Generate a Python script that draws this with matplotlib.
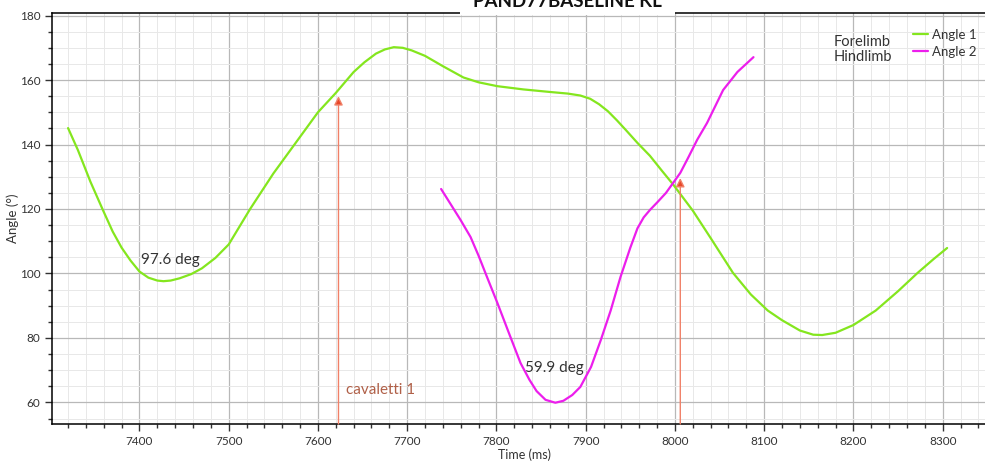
import matplotlib
matplotlib.use("Agg")
import matplotlib.pyplot as plt
from matplotlib.patches import Rectangle
from matplotlib.ticker import MultipleLocator

plt.rcParams["font.family"] = ["Lato", "DejaVu Sans"]

# Forelimb joint angle (Angle 1), deg over time in ms
fore_t = [7320, 7331, 7345, 7359, 7370, 7380, 7390, 7400, 7410, 7420,
          7427, 7435, 7445, 7458, 7470, 7485, 7500, 7512, 7524, 7550,
          7575, 7600, 7620, 7640, 7652, 7665, 7675, 7685, 7695, 7705,
          7720, 7740, 7763, 7780, 7801, 7830, 7860, 7880, 7894, 7905,
          7915, 7925, 7935, 7945, 7958, 7972, 7985, 7998, 8020, 8040,
          8065, 8085, 8104, 8120, 8140, 8155, 8165, 8180, 8200, 8225,
          8250, 8272, 8290, 8305]
fore_deg = [145.1, 138.3, 128.5, 119.7, 113.0, 108.0, 104.0, 100.6, 98.7, 97.8,
            97.6, 97.8, 98.5, 99.8, 101.6, 104.8, 109.0, 114.5, 120.0, 131.0,
            140.5, 150.0, 156.0, 162.5, 165.5, 168.2, 169.5, 170.2, 170.0, 169.2,
            167.5, 164.3, 160.8, 159.3, 158.1, 157.1, 156.3, 155.8, 155.2, 154.2,
            152.5, 150.3, 147.5, 144.5, 140.5, 136.5, 132.0, 127.6, 119.5, 111.0,
            100.2, 93.5, 88.5, 85.5, 82.3, 81.0, 80.9, 81.6, 84.0, 88.5,
            94.5, 100.2, 104.5, 107.9]

# Hindlimb joint angle (Angle 2)
hind_t = [7738, 7748, 7760, 7771, 7780, 7790, 7801, 7814, 7827, 7837,
          7845, 7855, 7866, 7875, 7885, 7894, 7906, 7917, 7928, 7939,
          7950, 7958, 7965, 7972, 7980, 7990, 7998, 8006, 8015, 8025,
          8036, 8054, 8070, 8088]
hind_deg = [126.2, 121.8, 116.5, 111.3, 105.5, 98.5, 90.9, 81.5, 72.2, 67.0,
            63.5, 60.8, 59.9, 60.5, 62.3, 64.8, 71.0, 79.4, 88.5, 98.9,
            108.0, 114.0, 117.4, 119.7, 122.0, 125.0, 128.1, 131.2, 136.0, 141.5,
            146.7, 156.9, 162.5, 167.1]

# event markers: (time, angle at arrow tip)
event_t = [7623, 8006]
event_deg = [155.0, 129.6]
event_label = "cavaletti 1"

min_labels = ["97.6 deg", "59.9 deg"]
min_pos_t = [7402, 7832]
min_pos_deg = [104.2, 70.7]

GREEN = "#84e61e"
MAGENTA = "#ec1eec"
TXT = "#333333"

fig = plt.figure(figsize=(9.85, 4.68), dpi=100)
ax = fig.add_axes([52 / 985, 1 - 424 / 468, 946 / 985, 411 / 468])

ax.set_xlim(7302, 8362)
ax.set_ylim(53.3, 180.8)

line_kw = dict(lw=1.6, zorder=3, solid_joinstyle="round", solid_capstyle="round")
l1, = ax.plot(fore_t, fore_deg, color=GREEN, **line_kw)
l2, = ax.plot(hind_t, hind_deg, color=MAGENTA, **line_kw)

# gridlines
ax.xaxis.set_major_locator(MultipleLocator(100))
ax.xaxis.set_minor_locator(MultipleLocator(20))
ax.yaxis.set_major_locator(MultipleLocator(20))
ax.yaxis.set_minor_locator(MultipleLocator(5))
ax.grid(which="major", color="#b8b8b8", lw=0.9, zorder=0)
ax.grid(which="minor", color="#e8e8e8", lw=0.7, zorder=0)
ax.set_axisbelow(True)

ax.tick_params(which="major", direction="out", length=5, width=1,
               labelsize=8.5, labelcolor=TXT, color="#333333")
ax.tick_params(which="minor", direction="out", length=3, width=1, color="#333333")
ax.spines["right"].set_visible(False)
for s in ("left", "bottom", "top"):
    ax.spines[s].set_linewidth(1.1)

ax.set_xlabel("Time (ms)", fontsize=9, color=TXT, labelpad=1)
ax.set_ylabel("Angle (°)", fontsize=9.5, color=TXT)
ax.yaxis.set_label_coords(-(52 - 19) / 946, 0.5)

# event arrows from the bottom of the plot
for t, d in zip(event_t, event_deg):
    ax.annotate("", xy=(t, d), xytext=(t, ax.get_ylim()[0]),
                arrowprops=dict(arrowstyle="-|>", fc="#e8482a", ec="#f08068",
                                lw=1.0, mutation_scale=13, shrinkA=0, shrinkB=0),
                zorder=4)
ax.text(event_t[0] + 8, 63.9, event_label, color="#b06048", fontsize=11,
        va="center", ha="left")

for lab, t, d in zip(min_labels, min_pos_t, min_pos_deg):
    ax.text(t, d, lab, color=TXT, fontsize=11, va="center", ha="left", zorder=5)

# legend
fig.legend([l1, l2], ["Angle 1", "Angle 2"], loc="upper left",
           bbox_to_anchor=(913 / 985, 1 - 29 / 468), frameon=False,
           fontsize=9.5, handlelength=1.15, handletextpad=0.3, labelspacing=0.35,
           borderpad=0, borderaxespad=0, labelcolor=TXT)
fig.text(834 / 985, 1 - 42 / 468, "Forelimb", fontsize=10.5, color=TXT, va="center")
fig.text(834 / 985, 1 - 57 / 468, "Hindlimb", fontsize=10.5, color=TXT, va="center")

# title sits in a white box over the top spine
fig.patches.append(Rectangle((460 / 985, 1 - 15 / 468), 215 / 985, 15 / 468,
                             transform=fig.transFigure, fc="white", ec="none",
                             zorder=10))
fig.text(567 / 985, 1 - 7 / 468, "PAND77BASELINE KL", fontsize=13.5,
         fontweight="bold", color="#111111", ha="center", va="baseline",
         zorder=11)

fig.savefig("out.png", dpi=100)
